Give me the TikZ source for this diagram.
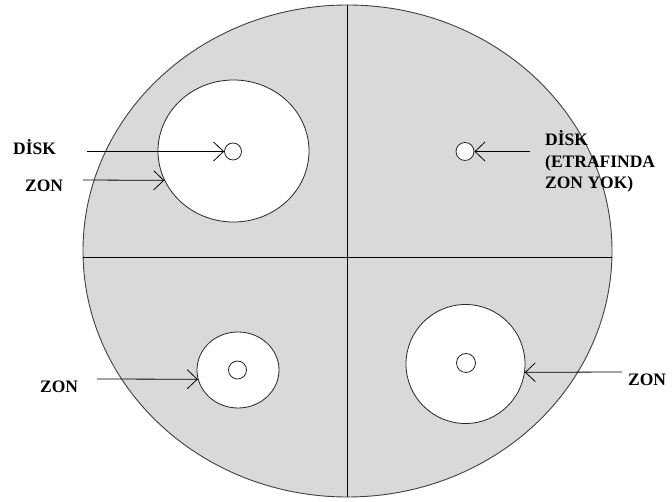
\documentclass[tikz,border=0pt]{standalone}
\usepackage{fontspec}
\setmainfont{Liberation Serif}
\usetikzlibrary{positioning, arrows.meta, shapes.geometric}
\definecolor{plategray}{HTML}{D9D9D9}

\begin{document}
\begin{tikzpicture}[x=1pt, y=1pt,
  plate/.style={ellipse, draw=black!75, fill=plategray, line width=0.9pt, inner sep=0pt},
  zone/.style={ellipse, draw=black!85, fill=white, line width=0.8pt, inner sep=0pt},
  disk/.style={circle, draw=black!85, fill=white, line width=0.8pt, inner sep=0pt, minimum size=18pt},
  lbl/.style={inner sep=0pt, anchor=base west, font=\fontsize{17.5}{21.5}\selectfont\bfseries},
  arr/.style={-{Straight Barb[length=10pt, width=19pt]}, line width=0.8pt}]
  \useasboundingbox (0,0) rectangle (672,502);
  % petri dish and its quarters
  \node[plate, minimum width=529pt, minimum height=492pt] (dish) at (347.5,251) {};
  \draw[line width=0.9pt] (dish.north) -- (dish.south);
  \draw[line width=0.9pt] ([yshift=-6pt]dish.west) -- ([yshift=-6pt]dish.east);
  % inhibition zones
  \node[zone, minimum width=151pt, minimum height=142pt] (zoneA) at (233.5,351) {};
  \node[zone, minimum width=82pt, minimum height=76pt] (zoneC) at (238,132) {};
  \node[zone, minimum size=119pt] (zoneD) at (465.5,138) {};
  % disks
  \node[disk, minimum size=17pt] (diskA) at (233,350.5) {};
  \node[disk] (diskB) at (465,350.5) {};
  \node[disk] (diskC) at (237.5,132) {};
  \node[disk, minimum size=19pt] (diskD) at (466,139) {};
  % labels (base of a multi-line node is its last line)
  \node[lbl] (diskAlbl) at (13,347) {DİSK};
  \node[lbl] (zoneAlbl) at (25,310) {ZON};
  \node[lbl, align=left] (diskBlbl) at (545,313) {DİSK\\(ETRAFINDA\\ZON YOK)};
  \node[lbl] (zoneClbl) at (40,109) {ZON};
  \node[lbl] (zoneDlbl) at (628,116) {ZON};
  % arrow tails
  \coordinate (tailA) at (87,350.5);
  \coordinate (tailZA) at (83,322);
  \coordinate (tailB) at (530,350.5);
  \coordinate (tailC) at (97,123);
  \coordinate (tailD) at (622,130);
  % arrows
  \draw[arr] (tailA) -- (diskA.west);
  \draw[arr] (tailZA) -- (zoneA.203);
  \draw[arr] (tailB) -- (diskB.east);
  \draw[arr] (tailC) -- (zoneC.193);
  \draw[arr] (tailD) -- (zoneD.352);
\end{tikzpicture}
\end{document}
